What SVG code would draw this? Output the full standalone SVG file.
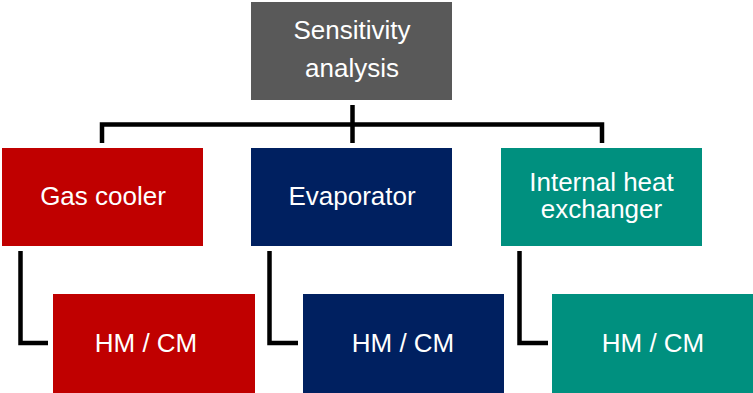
<svg xmlns="http://www.w3.org/2000/svg" width="753" height="393" viewBox="0 0 753 393">
<style>
.t{font-family:"Liberation Sans",Arial,sans-serif;font-size:26px;fill:#ffffff;text-anchor:middle}
.c{fill:none;stroke:#000;stroke-width:4.5}
.red{fill:#C00000}
.navy{fill:#002060}
.teal{fill:#00907F}
.gray{fill:#595959}
</style>
<rect width="753" height="393" fill="#fff"/>
<g id="connectors">
<path class="c" d="M102,143 V124.5 H602 V143"/>
<path class="c" d="M352.5,105 V143"/>
<path class="c" d="M20.5,251 V343 H48"/>
<path class="c" d="M269.5,251 V343 H298"/>
<path class="c" d="M519.5,251 V343 H548"/>
</g>
<g id="sensitivity">
<rect class="gray" x="251" y="2" width="201" height="98"/>
<text class="t" x="352" y="38.5">Sensitivity</text>
<text class="t" x="352" y="76.5">analysis</text>
</g>
<g id="gascooler">
<rect class="red" x="2" y="148" width="201" height="98"/>
<text class="t" x="103" y="205">Gas cooler</text>
</g>
<g id="evaporator">
<rect class="navy" x="251" y="148" width="201" height="98"/>
<text class="t" x="352" y="205">Evaporator</text>
</g>
<g id="ihx">
<rect class="teal" x="501" y="148" width="201" height="98"/>
<text class="t" x="601.5" y="190.5">Internal heat</text>
<text class="t" x="601.5" y="218">exchanger</text>
</g>
<g id="hmcm1">
<rect class="red" x="53" y="294" width="202" height="99"/>
<text class="t" x="146" y="352">HM / CM</text>
</g>
<g id="hmcm2">
<rect class="navy" x="303" y="294" width="201" height="99"/>
<text class="t" x="403" y="352">HM / CM</text>
</g>
<g id="hmcm3">
<rect class="teal" x="552" y="294" width="202" height="99"/>
<text class="t" x="653" y="352">HM / CM</text>
</g>
</svg>
